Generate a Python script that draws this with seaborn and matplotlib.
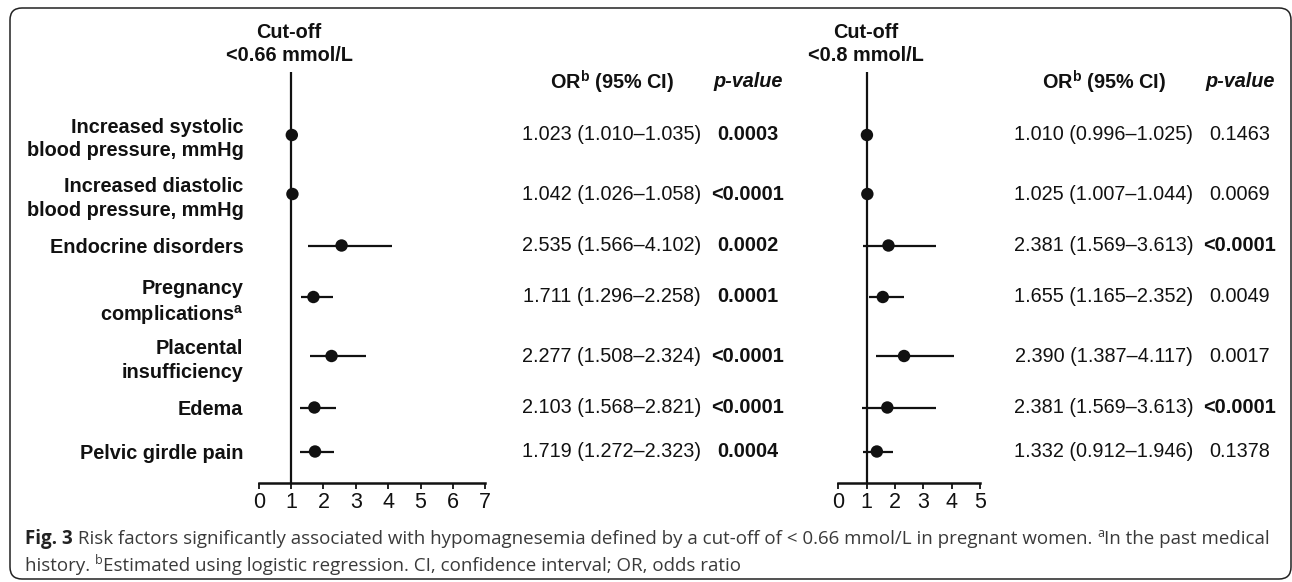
import numpy as np
import pandas as pd
import matplotlib
import matplotlib.pyplot as plt
import seaborn as sns
from matplotlib.patches import FancyBboxPatch
from matplotlib.transforms import IdentityTransform, blended_transform_factory

# data
labels = ["Increased systolic\nblood pressure, mmHg",
          "Increased diastolic\nblood pressure, mmHg",
          "Endocrine disorders",
          "Pregnancy\ncomplications$^{\\mathbf{a}}$",
          "Placental\ninsufficiency",
          "Edema",
          "Pelvic girdle pain"]

# cut-off <0.66 mmol/L (plotted positions)
or066 = [1.023, 1.042, 2.56, 1.69, 2.25, 1.72, 1.74]
lo066 = [1.010, 1.026, 1.53, 1.31, 1.60, 1.27, 1.27]
hi066 = [1.035, 1.058, 4.11, 2.30, 3.30, 2.38, 2.32]
ci066 = ["1.023 (1.010–1.035)", "1.042 (1.026–1.058)", "2.535 (1.566–4.102)",
         "1.711 (1.296–2.258)", "2.277 (1.508–2.324)", "2.103 (1.568–2.821)",
         "1.719 (1.272–2.323)"]
p066 = ["0.0003", "<0.0001", "0.0002", "0.0001", "<0.0001", "<0.0001", "0.0004"]

# cut-off <0.8 mmol/L (plotted positions)
or08 = [1.010, 1.025, 1.77, 1.57, 2.32, 1.73, 1.36]
lo08 = [0.996, 1.007, 0.88, 1.09, 1.33, 0.84, 0.86]
hi08 = [1.025, 1.044, 3.45, 2.33, 4.10, 3.45, 1.94]
ci08 = ["1.010 (0.996–1.025)", "1.025 (1.007–1.044)", "2.381 (1.569–3.613)",
        "1.655 (1.165–2.352)", "2.390 (1.387–4.117)", "2.381 (1.569–3.613)",
        "1.332 (0.912–1.946)"]
p08 = ["0.1463", "0.0069", "<0.0001", "0.0049", "0.0017", "<0.0001", "0.1378"]

ticks066 = [0, 1, 2, 3, 4, 5, 6, 7]
ticks08 = [0, 1, 2, 3, 4, 5]

df = pd.DataFrame({"label": labels, "or066": or066, "lo066": lo066, "hi066": hi066,
                   "or08": or08, "lo08": lo08, "hi08": hi08})

# rows with two-line labels get a bit more room
nlines = df["label"].str.count("\n") + 1
gap = 44 + 7.5 * ((nlines - 1) + (nlines.shift(1) - 1))
df["ypos"] = gap.fillna(0).cumsum()

sns.set_theme(style="white")
plt.rcParams["font.family"] = ["Liberation Sans", "DejaVu Sans"]
plt.rcParams["mathtext.fontset"] = "custom"
plt.rcParams["mathtext.rm"] = "Liberation Sans"
plt.rcParams["mathtext.bf"] = "Liberation Sans:bold"
plt.rcParams["mathtext.it"] = "Liberation Sans:italic"

W, H = 1292, 582
fig = plt.figure(figsize=(W / 100, H / 100), dpi=100)
fx = lambda x: x / W
fy = lambda y: 1 - y / H

ink = "#111111"
fs = 14.3

top, bot = 72, 483
axL = fig.add_axes([fx(258.7), fy(bot), fx(485.3 - 258.7), (bot - top) / H])
axR = fig.add_axes([fx(838.3), fy(bot), fx(980 - 838.3), (bot - top) / H])

for ax, c, lim, ticks in [(axL, "066", 7, ticks066), (axR, "08", 5, ticks08)]:
    ax.axvline(1, color=ink, lw=1.6, zorder=1)
    ax.hlines(df["ypos"], df["lo" + c], df["hi" + c], color=ink, lw=1.6, zorder=2)
    sns.scatterplot(data=df, x="or" + c, y="ypos", ax=ax, color=ink, s=80,
                    edgecolor="none", zorder=3)
    ax.set_xlim(0, lim)
    ax.set_ylim(bot - 135, top - 135)
    ax.set_xticks(ticks)
    ax.set_xlabel("")
    ax.set_ylabel("")
    ax.set_facecolor("none")
    for s in ["top", "right", "left"]:
        ax.spines[s].set_visible(False)
    ax.spines["bottom"].set_linewidth(1.8)
    ax.spines["bottom"].set_color(ink)
    ax.tick_params(axis="x", bottom=True, direction="out", length=4.5, width=1.3,
                   color=ink, labelsize=15.5, labelcolor=ink, pad=2)

axL.set_yticks(df["ypos"], df["label"])
axL.tick_params(axis="y", length=0, pad=11)
for t in axL.get_yticklabels():
    t.set_fontweight("bold")
    t.set_fontsize(fs)
    t.set_color(ink)
    t.set_linespacing(1.3)
axR.set_yticks([])

# column headers
for xc, txt in [(289, "Cut-off\n<0.66 mmol/L"), (866, "Cut-off\n<0.8 mmol/L")]:
    fig.text(fx(xc), fy(44), txt, ha="center", va="center", fontsize=fs,
             fontweight="bold", color=ink, linespacing=1.3)
for xo, xp in [(612, 748), (1104, 1240)]:
    fig.text(fx(xo), fy(82), "OR$^{\\mathbf{b}}$ (95% CI)", ha="center", va="center",
             fontsize=fs, fontweight="bold", color=ink)
    fig.text(fx(xp), fy(82), "p-value", ha="center", va="center", fontsize=fs,
             fontweight="bold", style="italic", color=ink)

# table columns aligned with the rows
tr = blended_transform_factory(fig.transFigure, axL.transData)
for i, y in enumerate(df["ypos"]):
    for xo, xp, ci, p in [(612, 748, ci066, p066), (1104, 1240, ci08, p08)]:
        fig.text(fx(xo), y, ci[i], transform=tr, ha="center", va="center",
                 fontsize=fs, color=ink)
        pv = float(p[i].lstrip("<"))
        fig.text(fx(xp), y, p[i], transform=tr, ha="center", va="center",
                 fontsize=fs, color=ink, fontweight="bold" if pv < 0.001 else "normal")

# caption, written as consecutive runs
cap_font = ["Open Sans", "DejaVu Sans"]
renderer = fig.canvas.get_renderer()


def runs(x, y, parts):
    for s, kw, dy in parts:
        t = fig.text(x, y + dy, s, va="baseline", ha="left", family=cap_font, **kw)
        bb = t.get_window_extent(renderer)
        x = bb.x1 / W
    return x


cap = dict(fontsize=13.5, color="#3a3a3a")
sup = dict(fontsize=9, color="#3a3a3a")
x0 = runs(fx(25), fy(544), [("Fig. 3", dict(fontsize=13.5, color="#222222", fontweight="bold"), 0),
                            (" Risk factors significantly associated with hypomagnesemia defined by a "
                             "cut-off of < 0.66 mmol/L in pregnant women. ", cap, 0)])
runs(x0, fy(544), [("a", sup, 7 / H), ("In the past medical", cap, 0)])
x1 = runs(fx(25), fy(571), [("history. ", cap, 0)])
runs(x1, fy(571), [("b", sup, 7 / H),
                   ("Estimated using logistic regression. CI, confidence interval; OR, odds ratio",
                    cap, 0)])

# rounded frame
frame = FancyBboxPatch((10, 3), 1281, 571, boxstyle="round,pad=0,rounding_size=12",
                       transform=IdentityTransform(), facecolor="none",
                       edgecolor="#222222", lw=1.1)
fig.add_artist(frame)

fig.savefig("out.png", dpi=100)
